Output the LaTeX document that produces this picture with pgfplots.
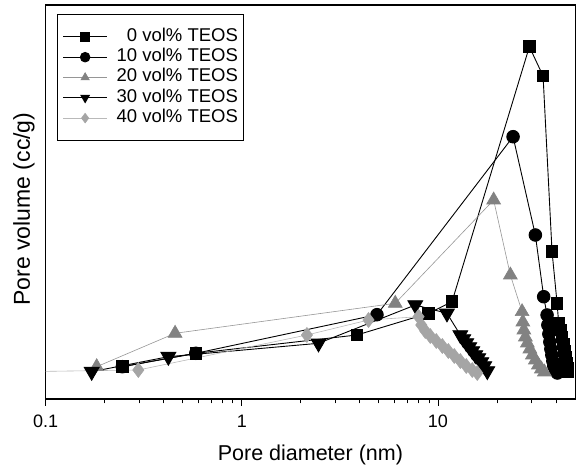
\documentclass[border=0pt]{standalone}
\usepackage{fontspec}
\setmainfont{Liberation Sans}
\usepackage{pgfplots}
\pgfplotsset{compat=1.18}
\definecolor{gtwenty}{RGB}{130,130,130}
\definecolor{gtwentyline}{RGB}{150,150,150}
\definecolor{gforty}{RGB}{165,165,165}
\definecolor{gfortyline}{RGB}{185,185,185}
\begin{document}
\begin{tikzpicture}
\useasboundingbox (-45.7pt,-72pt) rectangle (538.3pt,399pt);
\begin{axis}[
  at={(0,0)}, anchor=south west,
  scale only axis, width=529.4pt, height=394pt,
  xmode=log, xmin=0.1, xmax=50, ymin=0, ymax=394,
  xtick={0.1,1,10}, xticklabels={0.1,1,10},
  minor xtick={0.2,0.3,0.4,0.5,0.6,0.7,0.8,0.9,2,3,4,5,6,7,8,9,20,30,40},
  ytick=\empty,
  xtick pos=bottom, tick align=outside,
  major tick length=7pt, minor tick length=4.5pt,
  axis line style={line width=1.2pt},
  every tick/.style={black, line width=1pt},
  /pgf/number format/assume math mode=true,
  xticklabel style={font=\fontsize{18}{18}\selectfont, anchor=base, yshift=-22pt},
  xlabel={Pore diameter (nm)},
  ylabel={Pore volume (cc/g)},
  xlabel style={font=\fontsize{21.5}{21.5}\selectfont, at={(axis description cs:0.5,0)}, anchor=base, yshift=-61pt},
  ylabel style={font=\fontsize{23}{23}\selectfont, at={(axis description cs:-0.041,0.482)}, anchor=center},
  legend cell align=right,
  legend image code/.code={\draw[mark repeat=2,mark phase=2, mark size=4.8pt] plot coordinates {(0pt,0pt) (22pt,0pt) (44pt,0pt)};},
  legend style={at={(axis description cs:0,1)}, anchor=north west, xshift=11.6pt, yshift=-9pt,
    draw=black, line width=0.8pt, font=\fontsize{18.5}{18.5}\selectfont,
    inner xsep=5pt, inner ysep=14pt, row sep=3.3pt, column sep=9pt,
    nodes={inner sep=0pt, text height=13pt, text depth=4pt}},
]
\addplot[black, line width=0.9pt, mark=square*, mark size=5.8pt, mark options={solid, fill=black}] coordinates {
(0.2459,32.3) (0.5825,45.7) (3.861,64) (8.954,85.7) (11.79,97.3) (29.23,352.3) (34.33,323) (38.15,147.3) (40.47,95.7) (41.24,75.7) (42.07,69) (42.81,62) (43.58,55) (44.09,48) (44.61,42) (45.13,36) (45.66,31) (45.93,27)
};
\addlegendentry{0 vol\% TEOS}
\addplot[black, line width=0.9pt, mark=*, mark size=6.3pt, mark options={solid, fill=black}] coordinates {
(0.2459,32.3) (0.5825,45.7) (4.885,84.3) (24.14,262.3) (31.36,164) (34.58,102.3) (35.98,84) (36.32,74) (36.75,65) (37.18,57) (37.62,50) (38.06,44) (38.51,38) (38.96,33) (39.66,29) (40.61,26)
};
\addlegendentry{10 vol\% TEOS}
\addplot[gtwentyline, line width=0.6pt, mark=triangle*, mark size=8pt, mark options={solid, fill=gtwenty, draw=gtwenty}] coordinates {
(0.1820,32.3) (0.4567,65.7) (6.055,95.7) (19.22,199) (23.38,124) (26.83,87.3) (27.08,77) (27.40,69) (27.89,62) (28.55,56) (29.40,50) (30.28,44) (31.36,39) (32.49,34) (33.65,30) (34.86,27)
};
\addlegendentry{20 vol\% TEOS}
\addplot[black, line width=0.9pt, mark=triangle*, mark size=8.5pt, mark options={solid, fill=black, rotate=180}] coordinates {
(0.1716,27.3) (0.4221,42.3) (2.459,55.7) (7.660,94) (11.11,85.7) (13.00,64) (13.46,60) (13.94,56) (14.44,52) (14.96,48) (15.50,44) (16.05,41) (16.63,37) (17.22,33) (17.84,28)
};
\addlegendentry{30 vol\% TEOS}
\addplot[gfortyline, line width=0.6pt, mark=diamond*, mark size=7.5pt, mark options={solid, fill=gforty, draw=gforty}] coordinates {
(0.06,27) (0.2968,29) (2.146,64) (4.425,79) (7.962,82.3) (8.219,74) (8.613,68) (9.135,63) (9.802,58) (10.52,53) (11.29,48) (12.11,43) (13.00,38) (13.94,33) (14.96,29) (15.86,26)
};
\addlegendentry{40 vol\% TEOS}
\end{axis}
\end{tikzpicture}
\end{document}
